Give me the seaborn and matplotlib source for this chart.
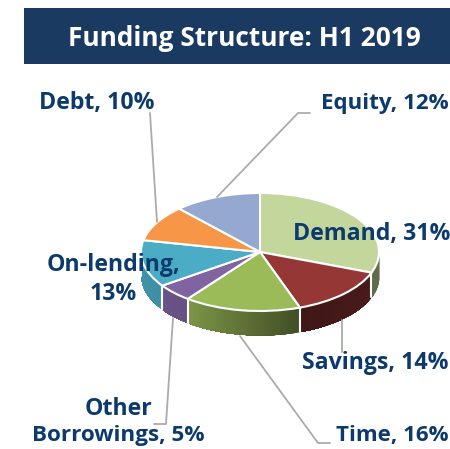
import numpy as np
import matplotlib
matplotlib.use("Agg")
import matplotlib.pyplot as plt
from matplotlib.patches import Rectangle
import seaborn as sns

# data
categories = ['Demand', 'Savings', 'Time', 'Other Borrowings', 'On-lending', 'Debt', 'Equity']
shares = [31, 14, 16, 5, 13, 10, 12]
colors = ['#C3D69B', '#953735', '#9BBB59', '#8064A2', '#4BACC6', '#F79646', '#95A9D0']

title = "Funding Structure: H1 2019"
NAVY = '#1A3A61'
TEXT = '#0C3A6C'
LEADER = '#ABABAB'

sns.set_theme(style='white')
plt.rcParams['font.family'] = ['Open Sans', 'DejaVu Sans']

W, H = 450, 449
fig = plt.figure(figsize=(W / 100, H / 100), dpi=100)

# pie axes covers only the top surface, side wall hangs below it
ax = fig.add_axes([141 / W, 1 - 311 / H, 238 / W, 118 / H])
palette = sns.color_palette(colors)
ax.pie(shares, colors=palette, startangle=90, counterclock=False, radius=1,
       wedgeprops=dict(edgecolor='white', linewidth=1.5, zorder=5))
ax.set_aspect('auto')
ax.set_xlim(-1, 1)
ax.set_ylim(-1, 1)

# side wall, shaded left to right
depth = 24 / 59
fracs = np.cumsum([0] + shares) / sum(shares)
for i, c in enumerate(palette):
    a0 = np.pi / 2 - 2 * np.pi * fracs[i]
    a1 = np.pi / 2 - 2 * np.pi * fracs[i + 1]
    t = np.linspace(a0, a1, 60)
    t = t[np.sin(t) <= 0]
    if len(t) < 2:
        continue
    # each strip runs to the slice end so later ones paint over the seams
    for j in range(len(t) - 1):
        x = np.cos(t[j:])
        y = np.sin(t[j:])
        shade = np.interp(x[0], [-1, -0.6, 0.33, 1], [0.85, 0.8, 0.42, 0.5])
        ax.fill_between(x, y, y - depth, color=np.array(c) * shade, lw=0,
                        clip_on=False, zorder=2)
    # white seam at the end of each slice
    ax.plot([np.cos(t[-1])] * 2, [np.sin(t[-1]), np.sin(t[-1]) - depth],
            color='white', lw=1.5, clip_on=False, zorder=3)

# overlay in pixel coordinates for banner, leaders and labels
over = fig.add_axes([0, 0, 1, 1], zorder=10)
over.set_xlim(0, W)
over.set_ylim(H, 0)
over.axis('off')
over.patch.set_alpha(0)

over.add_patch(Rectangle((24, 8), 426, 56, color=NAVY, lw=0))
over.text(244, 38, title, color='white', fontsize=18.9, fontweight='bold',
          ha='center', va='center')

leaders = [
    [(150, 113), (157, 222)],
    [(310, 113), (298, 113), (217, 197)],
    [(342, 320), (342, 352)],
    [(240, 336), (318, 443), (330, 443)],
    [(173, 318), (166, 424), (154, 424)],
]
for pts in leaders:
    xs, ys = zip(*pts)
    over.plot(xs, ys, color=LEADER, lw=1.3)

labels = [
    ('Debt, 10%', 39, 103, 'left', 16.7),
    ('Equity, 12%', 449, 104, 'right', 16.1),
    ('Demand, 31%', 450, 234, 'right', 16.7),
    ('On-lending,', 113, 265, 'center', 16.7),
    ('13%', 113, 294, 'center', 16.7),
    ('Savings, 14%', 449, 363, 'right', 16.7),
    ('Time, 16%', 449, 435, 'right', 16.0),
    ('Other', 118, 409, 'center', 16.7),
    ('Borrowings, 5%', 118, 436, 'center', 16.2),
]
for s, x, y, ha, size in labels:
    over.text(x, y, s, color=TEXT, fontsize=size, fontweight='bold', ha=ha, va='center')

fig.savefig('out.png', dpi=100)
